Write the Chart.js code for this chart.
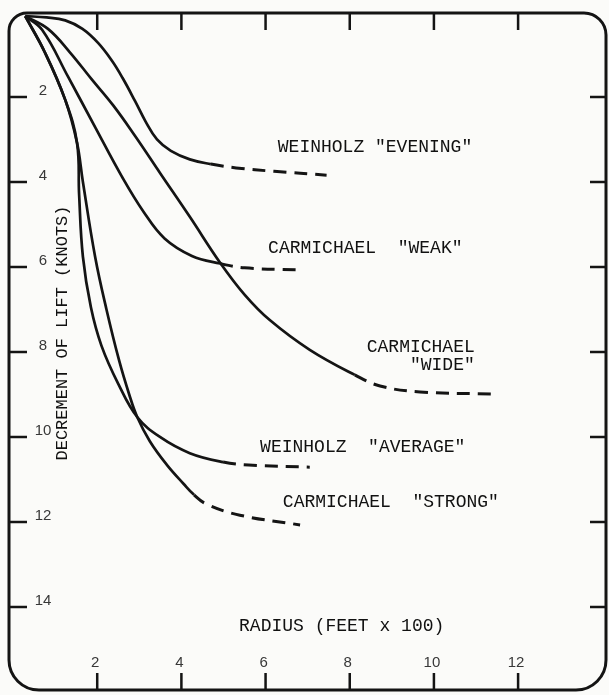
<!DOCTYPE html>
<html>
<head>
<meta charset="utf-8">
<script src="https://cdn.jsdelivr.net/npm/chart.js@4"></script>
<style>
  html, body { margin: 0; padding: 0; background: #fbfbf9; }
  #wrap { position: relative; width: 609px; height: 695px; }
</style>
</head>
<body>
<div id="wrap"><canvas id="lift"></canvas></div>
<script>
// ------------------------------------------------------------
// Decrement of lift vs radius — thermal profile curves
// x = radius (feet x 100), y = decrement of lift (knots)
// ------------------------------------------------------------

const radiusTicks = [2, 4, 6, 8, 10, 12];
const liftTicks = [2, 4, 6, 8, 10, 12, 14];

// measured part (solid) and extrapolated part (dashed) of each profile
const weinholzEvening = [[0.29, 0.1], [0.8, 0.13], [1.24, 0.2], [1.65, 0.4], [2.02, 0.73], [2.35, 1.15],
  [2.6, 1.55], [2.9, 2.1], [3.15, 2.58], [3.42, 3.0], [3.75, 3.27], [4.2, 3.47], [4.7, 3.58]];
const weinholzEveningExt = [[5.3, 3.67], [6.2, 3.75], [7.45, 3.84]];

const carmichaelWide = [[0.29, 0.1], [0.83, 0.4], [1.35, 0.95], [1.88, 1.6], [2.38, 2.2], [2.9, 2.92],
  [3.5, 3.8], [4.2, 4.82], [4.92, 5.9], [5.5, 6.65], [6.1, 7.25], [7.05, 7.95], [8.12, 8.54]];
const carmichaelWideExt = [[8.72, 8.8], [9.67, 8.94], [11.38, 8.99]];

const carmichaelWeak = [[0.29, 0.1], [0.69, 0.42], [1.31, 1.53], [1.95, 2.71], [2.59, 3.88], [3.1, 4.7],
  [3.6, 5.33], [4.25, 5.74], [4.92, 5.92]];
const carmichaelWeakExt = [[5.5, 6.02], [6.75, 6.07]];

const weinholzAverage = [[0.29, 0.1], [0.76, 0.96], [1.24, 2.07], [1.52, 3.08], [1.57, 4.3], [1.66, 5.76],
  [1.85, 6.95], [2.1, 7.85], [2.5, 8.75], [2.95, 9.53], [3.49, 10.0], [4.2, 10.38], [4.99, 10.59]];
const weinholzAverageExt = [[5.6, 10.66], [7.05, 10.71]];

const carmichaelStrong = [[0.29, 0.1], [0.76, 0.96], [1.24, 2.07], [1.52, 3.08], [1.66, 4.0], [1.95, 5.76],
  [2.22, 7.0], [2.52, 8.2], [2.76, 9.0], [2.95, 9.53], [3.25, 10.1], [3.65, 10.65], [4.05, 11.1], [4.3, 11.36]];
const carmichaelStrongExt = [[4.6, 11.58], [5.39, 11.84], [6.82, 12.07]];

const INK = '#141414';
const PAPER = '#fbfbf9';
const MONO = '"Liberation Mono", "DejaVu Sans Mono", monospace';

// curve captions, anchored in data units
const captions = [
  { text: 'WEINHOLZ "EVENING"', x: 6.29, y: 3.18, align: 'left' },
  { text: 'CARMICHAEL  "WEAK"', x: 6.06, y: 5.55, align: 'left' },
  { text: 'CARMICHAEL', x: 10.97, y: 7.88, align: 'right' },
  { text: '"WIDE"', x: 10.97, y: 8.31, align: 'right' },
  { text: 'WEINHOLZ  "AVERAGE"', x: 5.87, y: 10.24, align: 'left' },
  { text: 'CARMICHAEL  "STRONG"', x: 6.41, y: 11.53, align: 'left' },
  { text: 'RADIUS (FEET x 100)', x: 5.37, y: 14.45, align: 'left' },
];

const FRAME = { left: 9, top: 13, right: 606, bottom: 690 };

// one continuous spline per profile; segments past the measured part are dashed
function profile(measured, extrapolated) {
  const points = measured.concat(extrapolated);
  const lastSolid = measured.length - 1;
  return {
    data: points.map(([x, y]) => ({ x, y })),
    borderColor: INK,
    borderWidth: 2.7,
    pointRadius: 0,
    fill: false,
    tension: 0.4,
    segment: {
      borderDash: ctx => (ctx.p0DataIndex >= lastSolid ? [13, 8] : undefined),
      borderWidth: ctx => (ctx.p0DataIndex >= lastSolid ? 3 : undefined),
    },
  };
}

const paperPlugin = {
  id: 'paper',
  beforeDraw(chart) {
    const { ctx, width, height } = chart;
    ctx.save();
    ctx.fillStyle = PAPER;
    ctx.fillRect(0, 0, width, height);
    ctx.restore();
  },
  afterDatasetsDraw(chart) {
    const { ctx, scales: { x, y } } = chart;
    ctx.save();

    // rounded frame
    ctx.strokeStyle = INK;
    ctx.lineWidth = 3;
    ctx.beginPath();
    ctx.roundRect(FRAME.left, FRAME.top, FRAME.right - FRAME.left, FRAME.bottom - FRAME.top, [18, 22, 30, 30]);
    ctx.stroke();

    // tick marks pointing inward on all four sides
    ctx.lineWidth = 2.5;
    ctx.beginPath();
    liftTicks.forEach(v => {
      const py = y.getPixelForValue(v);
      ctx.moveTo(FRAME.left, py); ctx.lineTo(FRAME.left + 18, py);
      ctx.moveTo(FRAME.right - 16, py); ctx.lineTo(FRAME.right, py);
    });
    radiusTicks.forEach(v => {
      const px = x.getPixelForValue(v);
      ctx.moveTo(px, FRAME.top); ctx.lineTo(px, FRAME.top + 17);
      ctx.moveTo(px, FRAME.bottom); ctx.lineTo(px, FRAME.bottom - 17);
    });
    ctx.stroke();

    // tick labels
    ctx.fillStyle = '#383838';
    ctx.font = '15px "Liberation Sans", Arial, sans-serif';
    ctx.textAlign = 'center';
    ctx.textBaseline = 'middle';
    liftTicks.forEach(v => ctx.fillText(String(v), 43, y.getPixelForValue(v) - 6));
    radiusTicks.forEach(v => ctx.fillText(String(v), x.getPixelForValue(v) - 2, 663));

    // captions
    ctx.fillStyle = '#111';
    ctx.font = '18px ' + MONO;
    captions.forEach(c => {
      ctx.textAlign = c.align;
      ctx.fillText(c.text, x.getPixelForValue(c.x), y.getPixelForValue(c.y));
    });

    // vertical axis title
    ctx.font = '17px ' + MONO;
    ctx.translate(62, 333);
    ctx.rotate(-Math.PI / 2);
    ctx.textAlign = 'center';
    ctx.fillText('DECREMENT OF LIFT (KNOTS)', 0, 0);

    ctx.restore();
  }
};

new Chart(document.getElementById('lift'), {
  type: 'line',
  data: {
    datasets: [
      profile(weinholzEvening, weinholzEveningExt),
      profile(carmichaelWide, carmichaelWideExt),
      profile(carmichaelWeak, carmichaelWeakExt),
      profile(weinholzAverage, weinholzAverageExt),
      profile(carmichaelStrong, carmichaelStrongExt),
    ],
  },
  options: {
    responsive: true,
    maintainAspectRatio: false,
    animation: false,
    layout: { padding: 0 },
    plugins: { legend: { display: false }, tooltip: { enabled: false } },
    scales: {
      x: { type: 'linear', min: -0.31, max: 14.16, display: false },
      y: { type: 'linear', reverse: true, min: -0.28, max: 16.07, display: false },
    },
  },
  plugins: [paperPlugin],
});
</script>
</body>
</html>
